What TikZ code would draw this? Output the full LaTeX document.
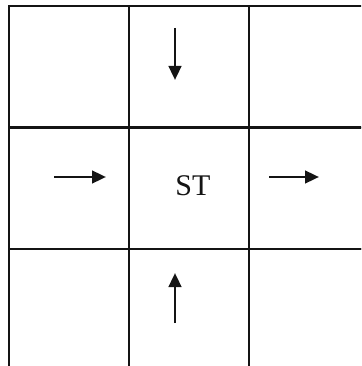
\documentclass[tikz,border=0pt]{standalone}
\usepackage{fontspec}
\setmainfont{Liberation Serif}
\usetikzlibrary{positioning,arrows.meta,calc}
\definecolor{ink}{HTML}{141414}
\begin{document}
\begin{tikzpicture}[x=1pt, y=-1pt,
  cell/.style={draw=ink, line width=2pt, minimum width=120pt, minimum height=121pt, inner sep=0pt, anchor=north west},
  flow/.style={-{Triangle[length=14pt,width=12.5pt]}, line width=2.8pt, draw=ink},
  tag/.style={font=\fontsize{30}{34}\selectfont, text=ink, inner sep=0pt}]
\useasboundingbox (0,0) rectangle (361,366);
\clip (0,0) rectangle (361,366);
% 3x3 grid of cells
\foreach \r/\y in {1/5.5,2/127,3/248}{
  \foreach \c/\x in {1/8,2/128,3/248}{
    \node[cell] (c\r\c) at (\x,\y) {};
  }
}
\node[tag] (st) at ($(c22.center)+(4,-3)$) {ST};
% arrow ends
\coordinate (nTop) at (175,28);
\coordinate (nTopEnd) at (175,80);
\coordinate (wIn) at (54,177);
\coordinate (wInEnd) at (106,177);
\coordinate (eOut) at (269,177);
\coordinate (eOutEnd) at (319,177);
\coordinate (sBot) at (175,323);
\coordinate (sBotEnd) at (175,273);
\draw[flow] (nTop) -- (nTopEnd);
\draw[flow] (wIn) -- (wInEnd);
\draw[flow] (eOut) -- (eOutEnd);
\draw[flow] (sBot) -- (sBotEnd);
\end{tikzpicture}
\end{document}
